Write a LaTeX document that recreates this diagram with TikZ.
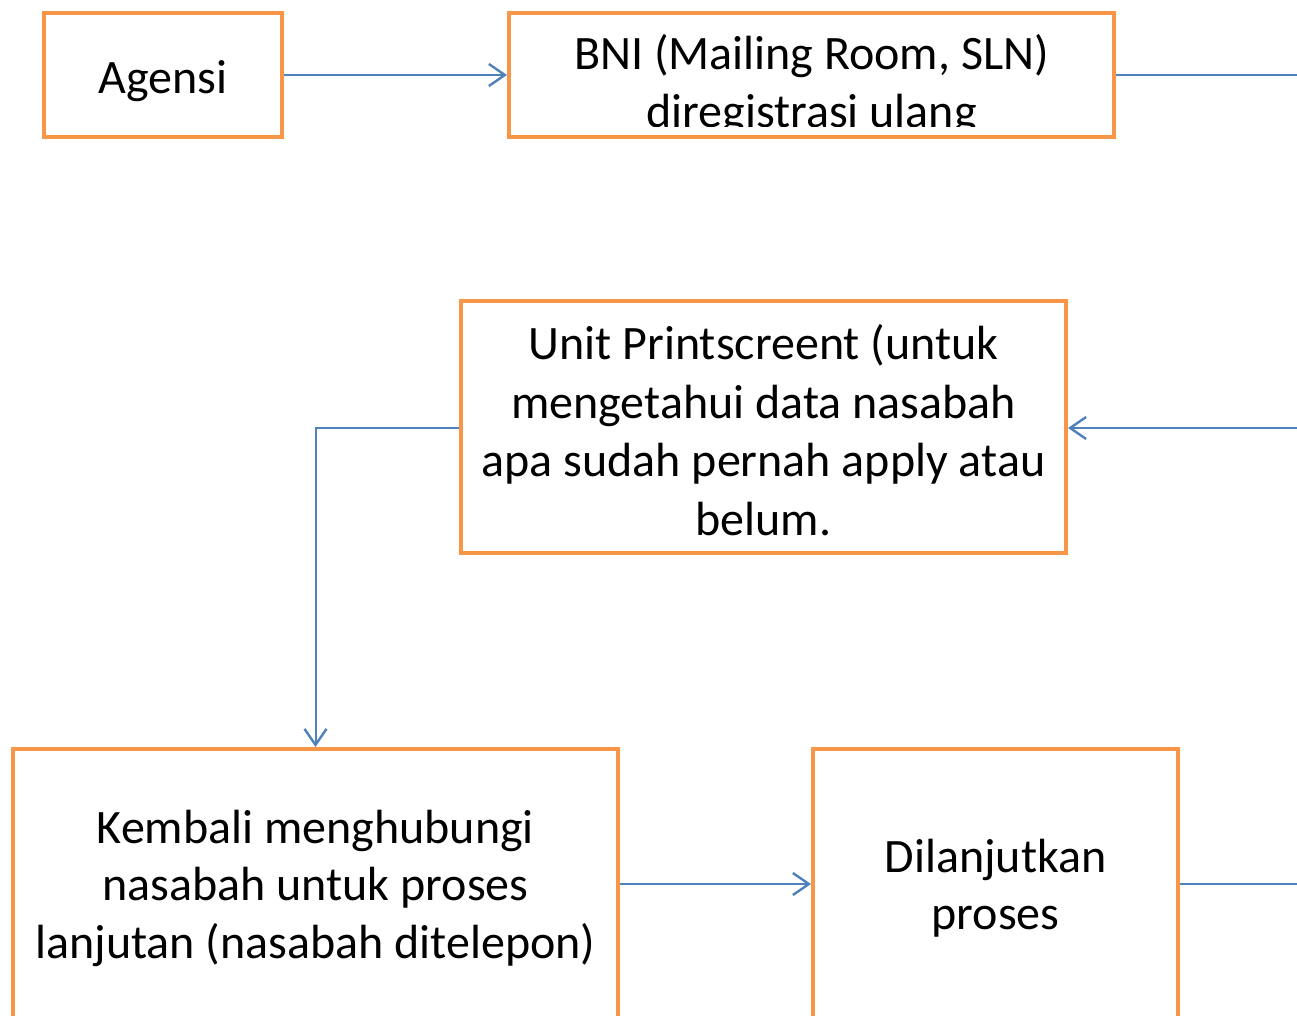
\documentclass[tikz,border=0pt]{standalone}
\usepackage{fontspec}
\setmainfont{Carlito}
\usetikzlibrary{arrows.meta}
\definecolor{boxorange}{HTML}{F79646}
\definecolor{lineblue}{HTML}{4F81BD}
\begin{document}
\begin{tikzpicture}[x=1pt,y=-1pt,
  box/.style={draw=boxorange,line width=4pt,fill=white,inner sep=0pt,align=center,
    font=\fontsize{48}{57.5}\selectfont},
  conn/.style={draw=lineblue,line width=2pt},
  arr/.style={conn,-{Straight Barb[length=16pt,width=22pt,line width=2.4pt]}},
  txt/.style={align=center,font=\fontsize{48}{57.5}\selectfont,inner sep=0pt}]
\useasboundingbox (0,0) rectangle (1297,1016);
\clip (0,0) rectangle (1297,1016);
\fill[white] (0,0) rectangle (1297,1016);
% boxes
\node[box,minimum width=238pt,minimum height=124pt] (agensi) at (163,75) {};
\node[txt] (agensitext) at (163,81) {Agensi};
\node[box,minimum width=605pt,minimum height=124pt] (bni) at (811.5,75) {};
\begin{scope}
  \clip (509,15) rectangle (1114,127);
  \node[txt] (bnitext) at (811.5,85) {BNI (Mailing Room, SLN)\\diregistrasi ulang};
\end{scope}
\node[box,minimum width=605pt,minimum height=252pt] (unit) at (763.5,427) {};
\node[txt,font=\fontsize{48}{58.5}\selectfont] (unittext) at (763.5,430)
  {Unit Printscreent (untuk\\mengetahui data nasabah\\apa sudah pernah apply atau\\belum.};
\node[box,minimum width=605pt,minimum height=278pt] (kembali) at (315.5,888)
  {Kembali menghubungi\\nasabah untuk proses\\lanjutan (nasabah ditelepon)};
\node[box,minimum width=365pt,minimum height=278pt] (lanjut) at (995.5,888)
  {Dilanjutkan\\proses};
% free ends
\coordinate (e1) at (1300,75);
\coordinate (e2) at (1300,428);
\coordinate (e3) at (1300,884);
% connectors
\draw[arr] (agensi.east) -- (bni.west);
\draw[conn] (bni.east) -- (e1);
\draw[arr] (e2) -- (unit.east |- e2);
\draw[arr] (unit.west |- e2) -| (kembali.north);
\draw[arr] (kembali.east |- e3) -- (lanjut.west |- e3);
\draw[conn] (lanjut.east |- e3) -- (e3);
\end{tikzpicture}
\end{document}
